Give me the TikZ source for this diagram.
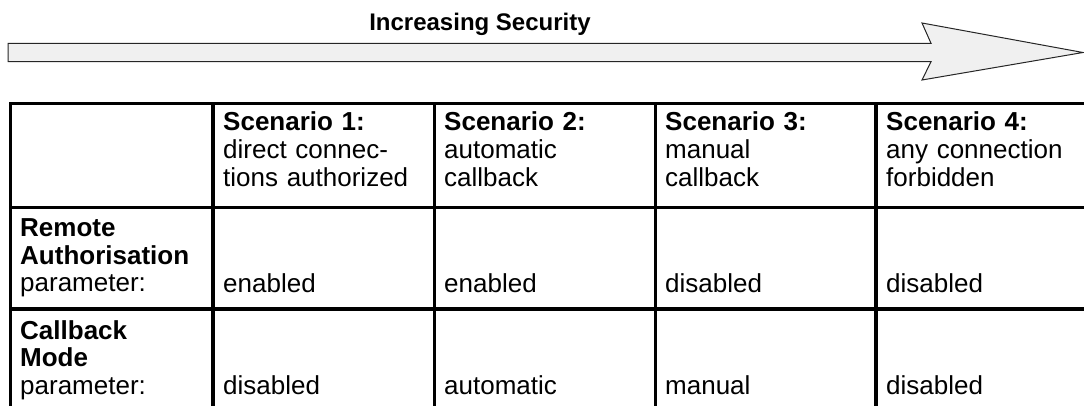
\documentclass[tikz,border=0pt]{standalone}
\usepackage{fontspec}
\setmainfont{Liberation Sans}
\begin{document}
\begin{tikzpicture}[x=1pt,y=-1pt,
  rule/.style={line width=3.2pt, black},
  cell/.style={anchor=base west, inner sep=0pt, align=left,
    font=\fontsize{26}{27.6}\selectfont},
  labelcell/.style={cell, text width=190pt},
  valuecell/.style={cell, text width=208pt},
  bigarrow/.style={fill=gray!12, draw=black!85, line width=1pt, line join=miter},
  title/.style={anchor=base, inner sep=0pt, font=\fontsize{24}{27}\selectfont\bfseries}]
\useasboundingbox (0,0) rectangle (1084,406);
\clip (0,0) rectangle (1084,406);

% security arrow and its caption
\node[title] (caption) at (480,31) {Increasing Security};
\draw[bigarrow] (8,43.3) -- (931,43.3) -- (922,23) -- (1083,52.5)
  -- (922,80) -- (931,61.7) -- (8,61.7) -- cycle;

% table grid
\draw[rule] (10.5,410) -- (10.5,103.5) -- (1090,103.5);
\draw[rule] (10.5,207.5) -- (1090,207.5);
\draw[rule] (10.5,309) -- (1090,309);
\foreach \x in {213,434.5,655.5,876}
  \draw[rule] (\x,103.5) -- (\x,410);

% header row
\node[valuecell] (s1) at (223,131) {\textbf{Scenario 1:}\\direct connec-\\tions authorized};
\node[valuecell] (s2) at (444,131) {\textbf{Scenario 2:}\\automatic\\callback};
\node[valuecell] (s3) at (665,131) {\textbf{Scenario 3:}\\manual\\callback};
\node[valuecell] (s4) at (886,131) {\textbf{Scenario 4:}\\any connection\\forbidden};

% remote authorisation row
\node[labelcell] (ra) at (20,236.5) {\textbf{Remote}\\\textbf{Authorisation}\\parameter:};
\node[valuecell] (ra1) at (223,292) {enabled};
\node[valuecell] (ra2) at (444,292) {enabled};
\node[valuecell] (ra3) at (665,292) {disabled};
\node[valuecell] (ra4) at (886,292) {disabled};

% callback mode row
\node[labelcell] (cm) at (20,339) {\textbf{Callback}\\\textbf{Mode}\\parameter:};
\node[valuecell] (cm1) at (223,394.5) {disabled};
\node[valuecell] (cm2) at (444,394.5) {automatic};
\node[valuecell] (cm3) at (665,394.5) {manual};
\node[valuecell] (cm4) at (886,394.5) {disabled};
\end{tikzpicture}
\end{document}
